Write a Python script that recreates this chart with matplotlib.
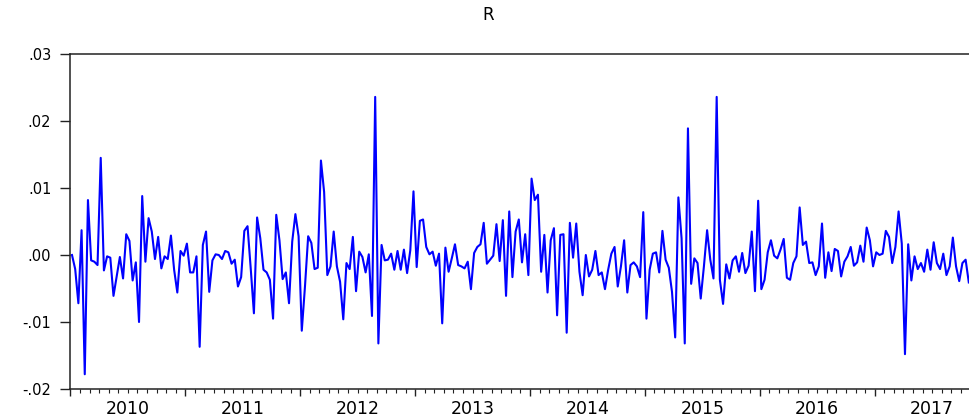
import numpy as np
import matplotlib.pyplot as plt

# R, ten-day observations (36 per year), Jan 2010 - Oct 2017
r_2010 = [0.0000, -0.0021, -0.0072, 0.0037, -0.0178, 0.0082, -0.0008, -0.0010, -0.0015, 0.0145,
          -0.0023, -0.0002, -0.0004, -0.0061, -0.0032, -0.0003, -0.0035, 0.0031, 0.0021, -0.0038,
          -0.0011, -0.0100, 0.0088, -0.0010, 0.0055, 0.0035, -0.0006, 0.0027, -0.0020, -0.0002,
          -0.0006, 0.0029, -0.0022, -0.0056, 0.0006, -0.0001]
r_2011 = [0.0017, -0.0026, -0.0026, -0.0002, -0.0137, 0.0015, 0.0035, -0.0055, -0.0008, 0.0001,
          0.0000, -0.0006, 0.0006, 0.0004, -0.0013, -0.0007, -0.0047, -0.0033, 0.0036, 0.0043,
          -0.0020, -0.0087, 0.0056, 0.0025, -0.0022, -0.0026, -0.0037, -0.0095, 0.0060, 0.0022,
          -0.0036, -0.0026, -0.0072, 0.0020, 0.0061, 0.0028]
r_2012 = [-0.0113, -0.0047, 0.0028, 0.0018, -0.0021, -0.0019, 0.0141, 0.0094, -0.0030, -0.0017,
          0.0035, -0.0017, -0.0040, -0.0096, -0.0012, -0.0021, 0.0027, -0.0054, 0.0005, -0.0003,
          -0.0026, 0.0001, -0.0091, 0.0236, -0.0132, 0.0015, -0.0008, -0.0007, 0.0002, -0.0022,
          0.0006, -0.0022, 0.0008, -0.0027, 0.0007, 0.0095]
r_2013 = [-0.0018, 0.0051, 0.0053, 0.0012, 0.0001, 0.0005, -0.0016, 0.0002, -0.0102, 0.0011,
          -0.0025, -0.0005, 0.0016, -0.0015, -0.0017, -0.0020, -0.0010, -0.0051, 0.0003, 0.0012,
          0.0016, 0.0048, -0.0013, -0.0007, -0.0001, 0.0046, -0.0009, 0.0052, -0.0061, 0.0065,
          -0.0033, 0.0035, 0.0053, -0.0011, 0.0031, -0.0030]
r_2014 = [0.0114, 0.0082, 0.0090, -0.0025, 0.0030, -0.0056, 0.0022, 0.0040, -0.0090, 0.0030,
          0.0031, -0.0116, 0.0048, -0.0004, 0.0047, -0.0025, -0.0060, 0.0000, -0.0032, -0.0022,
          0.0006, -0.0030, -0.0026, -0.0051, -0.0022, 0.0002, 0.0012, -0.0047, -0.0017, 0.0022,
          -0.0056, -0.0015, -0.0011, -0.0017, -0.0033, 0.0064]
r_2015 = [-0.0095, -0.0022, 0.0002, 0.0004, -0.0026, 0.0036, -0.0007, -0.0019, -0.0055, -0.0123,
          0.0086, 0.0025, -0.0132, 0.0189, -0.0043, -0.0005, -0.0012, -0.0065, -0.0017, 0.0037,
          -0.0007, -0.0035, 0.0236, -0.0037, -0.0073, -0.0014, -0.0035, -0.0008, -0.0002, -0.0025,
          0.0003, -0.0027, -0.0016, 0.0035, -0.0054, 0.0081]
r_2016 = [-0.0051, -0.0037, 0.0004, 0.0022, -0.0001, -0.0005, 0.0008, 0.0024, -0.0034, -0.0037,
          -0.0012, -0.0002, 0.0071, 0.0015, 0.0020, -0.0012, -0.0011, -0.0030, -0.0017, 0.0047,
          -0.0034, 0.0004, -0.0024, 0.0009, 0.0006, -0.0032, -0.0010, -0.0002, 0.0012, -0.0016,
          -0.0011, 0.0014, -0.0010, 0.0041, 0.0022, -0.0017]
r_2017 = [0.0004, 0.0000, 0.0002, 0.0036, 0.0027, -0.0012, 0.0012, 0.0065, 0.0017, -0.0148,
          0.0016, -0.0038, -0.0002, -0.0021, -0.0012, -0.0025, 0.0008, -0.0022, 0.0019, -0.0012,
          -0.0021, 0.0002, -0.0030, -0.0017, 0.0026, -0.0017, -0.0039, -0.0012, -0.0007, -0.0041]

years = [2010, 2011, 2012, 2013, 2014, 2015, 2016, 2017]
per_year = 36

y_ticks = [0.03, 0.02, 0.01, 0.00, -0.01, -0.02]
y_labels = ['.03', '.02', '.01', '.00', '-.01', '-.02']

r = np.concatenate([r_2010, r_2011, r_2012, r_2013, r_2014, r_2015, r_2016, r_2017])
obs = np.arange(len(r))

fig = plt.figure(figsize=(9.7, 4.19), dpi=100)
ax = fig.add_axes([70.4 / 970, 30 / 419, 900 / 970, 335 / 419])

ax.plot(obs, r, color='#0000ff', lw=1.5)

ax.set_xlim(-0.5, len(r) - 0.5)
ax.set_ylim(-0.02, 0.03)

ax.set_yticks(y_ticks, y_labels)
bounds = np.arange(len(years)) * per_year - 0.5
ax.set_xticks(bounds, [''] * len(bounds))
ax.set_xticks(np.arange(-0.5, len(r), per_year / 12), minor=True)

ax.tick_params(axis='y', direction='out', length=7.2, width=1.0, pad=6.5,
               labelsize=10.5, color='#222222')
ax.tick_params(axis='x', which='major', direction='out', length=5, width=1.0, color='#222222')
ax.tick_params(axis='x', which='minor', direction='out', length=2.9, width=0.8, color='#222222')

for k, yr in enumerate(years):
    ax.text(k * per_year + per_year / 2 - 0.5, -0.06, str(yr), transform=ax.get_xaxis_transform(),
            ha='center', va='center', fontsize=12.5)

for s in ['left', 'top', 'bottom']:
    ax.spines[s].set_linewidth(1.1)
    ax.spines[s].set_color('#222222')
ax.spines['right'].set_visible(False)

fig.text(0.503, 0.964, 'R', ha='center', va='center', fontsize=12)

fig.savefig('out.png', dpi=100)
